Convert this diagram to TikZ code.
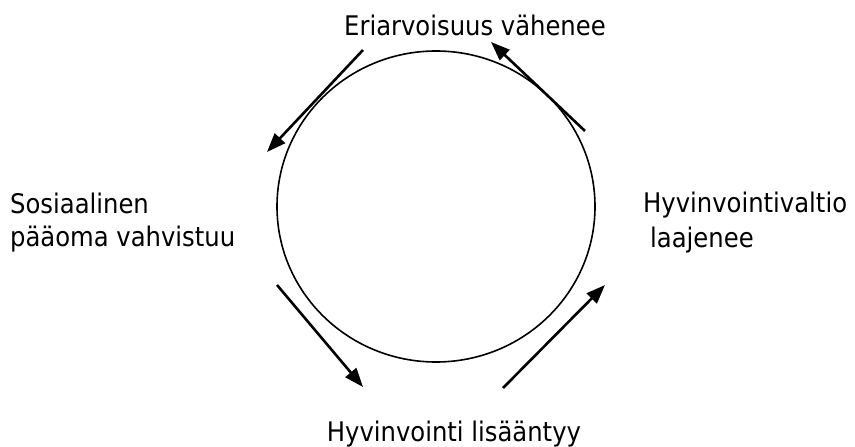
\documentclass[tikz,border=0pt]{standalone}
\usepackage{fontspec}
\setmainfont{DejaVu Sans Condensed}
\usetikzlibrary{arrows.meta}
\begin{document}
\begin{tikzpicture}[x=1pt,y=-1pt,
  lbl/.style={inner sep=0pt,font=\fontsize{27}{34}\selectfont},
  flow/.style={line width=2.6pt,-{Triangle[length=19pt,width=14pt]}},
  ring/.style={line width=1.6pt}]
\useasboundingbox (0,0) rectangle (855,447);
\draw[ring] (436,206.5) ellipse[x radius=159pt,y radius=155.5pt];
\node[lbl,anchor=base] (top) at (475,35) {Eriarvoisuus vähenee};
\node[lbl,anchor=base west] (l1) at (10,213) {Sosiaalinen};
\node[lbl,anchor=base west] (l2) at (10,246) {pääoma vahvistuu};
\node[lbl,anchor=base west] (r1) at (643,212) {Hyvinvointivaltio};
\node[lbl,anchor=base west] (r2) at (650,247) {laajenee};
\node[lbl,anchor=base] (bot) at (454,441) {Hyvinvointi lisääntyy};
\coordinate (a1s) at (363,50);  \coordinate (a1e) at (267,152);
\coordinate (a2s) at (585,131); \coordinate (a2e) at (491,42);
\coordinate (a3s) at (277,285); \coordinate (a3e) at (363,387);
\coordinate (a4s) at (503,388); \coordinate (a4e) at (605,285);
\draw[flow] (a1s) -- (a1e);
\draw[flow] (a2s) -- (a2e);
\draw[flow] (a3s) -- (a3e);
\draw[flow] (a4s) -- (a4e);
\end{tikzpicture}
\end{document}
